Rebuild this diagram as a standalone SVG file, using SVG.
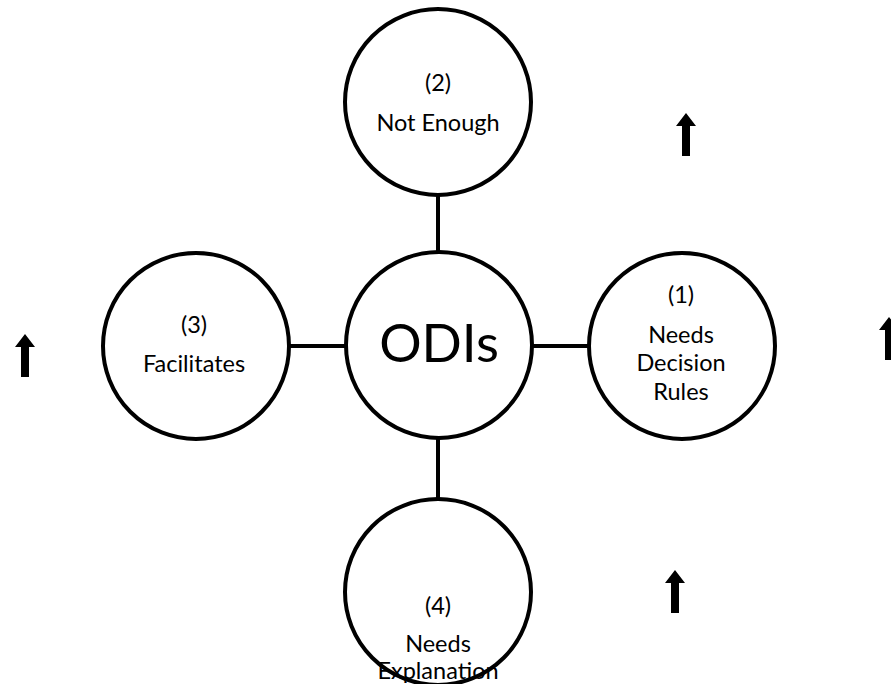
<svg xmlns="http://www.w3.org/2000/svg" width="891" height="684" viewBox="0 0 891 684">
  <style>
    .node { fill: #ffffff; stroke: #000000; stroke-width: 4; }
    .link { stroke: #000000; stroke-width: 4; fill: none; }
    .lbl { font-family: Lato, "Liberation Sans", sans-serif; font-size: 23.5px; fill: #000000; text-anchor: middle; }
    .big { font-family: Lato, "Liberation Sans", sans-serif; font-size: 53px; fill: #000000; text-anchor: middle; }
    .up { fill: #000000; }
  </style>
  <defs>
    <!-- block up-arrow, tip at origin -->
    <path id="uparrow" d="M0,0 L10,13 L4,13 L4,43 L-4,43 L-4,13 L-10,13 Z"/>
  </defs>
  <rect width="891" height="684" fill="#ffffff"/>

  <g id="connectors">
    <line class="link" x1="438" y1="194" x2="438" y2="252"/>
    <line class="link" x1="290" y1="346" x2="346" y2="346"/>
    <line class="link" x1="532" y1="346" x2="588" y2="346"/>
    <line class="link" x1="438" y1="437" x2="438" y2="499"/>
  </g>

  <g id="odis">
    <circle class="node" cx="439" cy="345" r="93"/>
    <text class="big" x="439" y="362">ODIs</text>
  </g>

  <g id="not-enough">
    <circle class="node" cx="438" cy="102" r="93"/>
    <text class="lbl" x="438" y="91">(2)</text>
    <text class="lbl" x="438" y="131">Not Enough</text>
  </g>

  <g id="facilitates">
    <circle class="node" cx="196" cy="346" r="93"/>
    <text class="lbl" x="194" y="333">(3)</text>
    <text class="lbl" x="194" y="372">Facilitates</text>
  </g>

  <g id="needs-decision-rules">
    <circle class="node" cx="682" cy="346" r="93"/>
    <text class="lbl" x="681" y="303">(1)</text>
    <text class="lbl" x="681" y="343">Needs</text>
    <text class="lbl" x="681" y="371">Decision</text>
    <text class="lbl" x="681" y="400">Rules</text>
  </g>

  <g id="needs-explanation">
    <circle class="node" cx="438" cy="592" r="93"/>
    <text class="lbl" x="438" y="614">(4)</text>
    <text class="lbl" x="438" y="652">Needs</text>
    <text class="lbl" x="438" y="679">Explanation</text>
  </g>

  <g id="arrows">
    <use class="up" href="#uparrow" x="686" y="113"/>
    <use class="up" href="#uparrow" x="25" y="334"/>
    <use class="up" href="#uparrow" x="889" y="317"/>
    <use class="up" href="#uparrow" x="675" y="570"/>
  </g>
</svg>
